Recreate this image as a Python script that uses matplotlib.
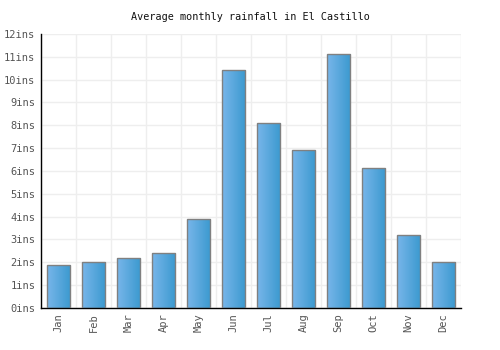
import matplotlib
matplotlib.use("Agg")
import matplotlib.pyplot as plt
import numpy as np
from matplotlib.colors import LinearSegmentedColormap

months = ["Jan", "Feb", "Mar", "Apr", "May", "Jun", "Jul", "Aug", "Sep", "Oct", "Nov", "Dec"]
rainfall = [1.88, 2.0, 2.19, 2.4, 3.9, 10.42, 8.1, 6.92, 11.12, 6.13, 3.2, 2.0]
yticks = list(range(0, 13))
ytick_labels = [f"{v}ins" for v in yticks]
title = "Average monthly rainfall in El Castillo"

plt.rcParams['font.family'] = ['DejaVu Sans Mono']

fig = plt.figure(figsize=(5, 3.5), dpi=100)
ax = fig.add_axes([0.082, 0.12, 0.84, 0.783])

x = np.arange(len(months))
width = 0.68
bars = ax.bar(x, rainfall, width=width, color='none', edgecolor='#808080', linewidth=1.0, zorder=3)

cmap = LinearSegmentedColormap.from_list("g", ["#78b6ea", "#3b99cf"])
grad = np.linspace(0, 1, 64).reshape(1, -1)
for b in bars:
    x0, y0 = b.get_x(), b.get_y()
    w, h = b.get_width(), b.get_height()
    im = ax.imshow(grad, cmap=cmap, extent=[x0, x0 + w, y0, y0 + h],
                   aspect='auto', zorder=2, interpolation='bilinear')
    im.set_clip_path(b)

ax.set_xlim(-0.5, len(months) - 0.5)
ax.set_ylim(0, 12)
ax.set_yticks(yticks)
ax.set_yticklabels(ytick_labels)
ax.set_xticks(x)
ax.set_xticklabels(months, rotation=90)
ax.set_xticks(np.arange(-0.5, len(months), 1), minor=True)

ax.grid(True, which='major', axis='y', color='#eeeeee', linewidth=1, zorder=0)
ax.grid(True, which='minor', axis='x', color='#eeeeee', linewidth=1, zorder=0)
ax.tick_params(axis='both', which='both', length=0, labelsize=7.5, labelcolor='#555555', pad=4)

for s in ['top', 'right']:
    ax.spines[s].set_visible(False)
for s in ['left', 'bottom']:
    ax.spines[s].set_color('black')
    ax.spines[s].set_linewidth(1)

fig.text(0.5, 0.951, title, ha='center', va='center', fontsize=7.3, color='#111111')

fig.savefig("out.png", dpi=100)
